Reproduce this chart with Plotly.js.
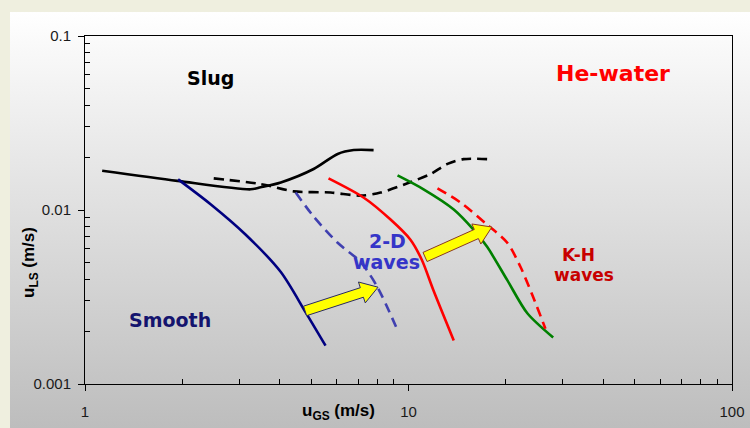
<!DOCTYPE html>
<html>
<head>
<meta charset="utf-8">
<script src="https://cdn.plot.ly/plotly-3.0.1.min.js"></script>
<style>
  html, body { margin: 0; padding: 0; }
  body { width: 750px; height: 428px; background: #efefdf; position: relative; overflow: hidden; }
  #panel { position: absolute; left: 10px; top: 12px; right: 0; bottom: 0;
           background: linear-gradient(to bottom, #ffffff 0%, #f8f8f8 10%, #bdbdbd 100%); }
  #chart { position: absolute; left: 0; top: 0; width: 750px; height: 428px; }
</style>
</head>
<body>
<div id="panel"></div>
<div id="chart"></div>
<script>
// Flow-regime transition boundaries, He-water (u_GS vs u_LS, m/s)
const slugSolidX = [1.13, 1.93, 3.25, 3.49, 4.03, 5.09, 6.04, 6.77, 7.80];
const slugSolidY = [0.0168, 0.0147, 0.01315, 0.0135, 0.0144, 0.0172, 0.0210, 0.0221, 0.0221];

const slugDashX = [2.50, 3.49, 4.42, 5.75, 7.11, 8.20, 9.93, 11.7, 13.2, 14.8, 17.5];
const slugDashY = [0.0152, 0.0141, 0.0128, 0.0126, 0.0121, 0.0126, 0.01425, 0.0161, 0.0184, 0.0196, 0.0196];

const smoothX = [1.94, 2.45, 3.14, 4.03, 4.81, 5.54];
const smoothY = [0.0150, 0.01076, 0.00721, 0.00440, 0.00258, 0.00166];

const wave2dX = [4.48, 5.09, 6.04, 7.11, 8.02, 9.31];
const wave2dY = [0.0126, 0.00917, 0.00648, 0.00502, 0.00360, 0.00198];

const redSolidX = [5.66, 7.26, 8.80, 10.14, 11.0, 11.94, 13.8];
const redSolidY = [0.0152, 0.0118, 0.00881, 0.00675, 0.00516, 0.00346, 0.00178];

const greenX = [9.25, 11.13, 13.8, 15.88, 17.5, 20.2, 23.3, 28.0];
const greenY = [0.0158, 0.01315, 0.01007, 0.00771, 0.00614, 0.00395, 0.00255, 0.00185];

const redDashX = [12.29, 14.47, 17.5, 20.2, 22.2, 24.3, 26.5];
const redDashY = [0.01333, 0.01105, 0.00824, 0.00648, 0.0047, 0.00315, 0.00208];

// Shift arrows: [tailX, tailY, tipX, tipY]
const arrowSmall = [4.79, 0.00263, 8.05, 0.0036];
const arrowLarge = [11.25, 0.00537, 18.1, 0.00798];

const xTickVals = [1, 10, 100];
const xTickText = ['1', '10', '100'];
const yTickVals = [0.001, 0.01, 0.1];
const yTickText = ['0.001', '0.01', '0.1'];
const minorDigits = [2, 3, 4, 5, 6, 7, 8, 9];

const W = 750, H = 428;
const M = { l: 85, r: 18, t: 36, b: 44 };
const xRange = [0, 2], yRange = [-3, -1];

// pixels per decade, used to build arrow outlines in screen proportions
const pxX = (W - M.l - M.r) / (xRange[1] - xRange[0]);
const pxY = (H - M.t - M.b) / (yRange[1] - yRange[0]);

function blockArrow(a, shaft, headW, headL) {
  const x0 = Math.log10(a[0]) * pxX, y0 = Math.log10(a[1]) * pxY;
  const x1 = Math.log10(a[2]) * pxX, y1 = Math.log10(a[3]) * pxY;
  const dx = x1 - x0, dy = y1 - y0, len = Math.hypot(dx, dy);
  const ux = dx / len, uy = dy / len, nx = -uy, ny = ux;
  const bx = x1 - ux * headL, by = y1 - uy * headL;
  const pts = [
    [x0 + nx * shaft / 2, y0 + ny * shaft / 2],
    [bx + nx * shaft / 2, by + ny * shaft / 2],
    [bx + nx * headW / 2, by + ny * headW / 2],
    [x1, y1],
    [bx - nx * headW / 2, by - ny * headW / 2],
    [bx - nx * shaft / 2, by - ny * shaft / 2],
    [x0 - nx * shaft / 2, y0 - ny * shaft / 2]
  ];
  pts.push(pts[0]);
  return {
    x: pts.map(p => Math.pow(10, p[0] / pxX)),
    y: pts.map(p => Math.pow(10, p[1] / pxY))
  };
}

function line(x, y, color, dash) {
  return {
    x: x, y: y, type: 'scatter', mode: 'lines', hoverinfo: 'skip',
    line: { color: color, width: 2.6, dash: dash || 'solid', shape: 'spline', smoothing: 0.8 }
  };
}

const a1 = blockArrow(arrowSmall, 10, 22, 17);
const a2 = blockArrow(arrowLarge, 10, 22, 17);

const data = [
  line(slugSolidX, slugSolidY, '#000000'),
  line(slugDashX, slugDashY, '#000000', '10px,6px'),
  line(smoothX, smoothY, '#000080'),
  line(wave2dX, wave2dY, '#4040b0', '10px,6px'),
  line(redSolidX, redSolidY, '#ff0000'),
  line(greenX, greenY, '#008000'),
  line(redDashX, redDashY, '#ff0000', '10px,6px'),
  { x: a1.x, y: a1.y, type: 'scatter', mode: 'lines', fill: 'toself', fillcolor: '#ffff00',
    line: { color: '#2a2a60', width: 1 }, hoverinfo: 'skip' },
  { x: a2.x, y: a2.y, type: 'scatter', mode: 'lines', fill: 'toself', fillcolor: '#ffff00',
    line: { color: '#8a3a20', width: 1 }, hoverinfo: 'skip' }
];

function minorVals(lo, hi) {
  const v = [];
  for (let e = lo; e < hi; e++) minorDigits.forEach(d => v.push(d * Math.pow(10, e)));
  return v;
}

const tickFont = { family: 'Liberation Sans, Arial, sans-serif', size: 15, color: '#1a1a1a' };
const labelFont = 'DejaVu Sans, Verdana, sans-serif';

const axisCommon = {
  type: 'log', showgrid: false, zeroline: false,
  showline: true, linecolor: '#000', linewidth: 1, mirror: true,
  ticks: 'outside', ticklen: 6, tickcolor: '#000', tickwidth: 1,
  tickmode: 'array', tickfont: tickFont
};

// region labels: text, centre in pixels, size, colour
const regionLabels = [
  ['<b>Slug</b>', 210, 78, 19, '#000000'],
  ['<b>He-water</b>', 613, 73, 22, '#ff0000'],
  ['<b>2-D</b>', 387, 241, 19, '#3535c8'],
  ['<b>waves</b>', 386, 262, 19, '#3535c8'],
  ['<b>K-H</b>', 578, 255, 17, '#c80000'],
  ['<b>waves</b>', 584, 275, 17, '#c80000'],
  ['<b>Smooth</b>', 170, 320, 19, '#14146e']
];

const plotW = W - M.l - M.r, plotH = H - M.t - M.b;
const px2paperX = px => (px - M.l) / plotW;
const px2paperY = py => 1 - (py - M.t) / plotH;

const layout = {
  width: W, height: H,
  margin: M,
  paper_bgcolor: 'rgba(0,0,0,0)', plot_bgcolor: 'rgba(0,0,0,0)',
  showlegend: false,
  xaxis: Object.assign({}, axisCommon, {
    range: xRange, tickvals: xTickVals, ticktext: xTickText, ticklabelstandoff: 8,
    minor: { tickmode: 'array', tickvals: minorVals(0, 2), ticks: 'inside', ticklen: 5, tickcolor: '#000', showgrid: false }
  }),
  yaxis: Object.assign({}, axisCommon, {
    range: yRange, tickvals: yTickVals, ticktext: yTickText, ticklabelstandoff: 4,
    minor: { tickmode: 'array', tickvals: minorVals(-3, -1), ticks: 'inside', ticklen: 5, tickcolor: '#000', showgrid: false }
  }),
  annotations: regionLabels.map(a => ({
    text: a[0], xref: 'paper', yref: 'paper',
    x: px2paperX(a[1]), y: px2paperY(a[2]),
    xanchor: 'center', yanchor: 'middle', showarrow: false, borderpad: 0,
    font: { family: labelFont, size: a[3], color: a[4] }
  })).concat([
    { text: '<b>u<sub>GS</sub> (m/s)</b>', xref: 'paper', yref: 'paper',
      x: px2paperX(338), y: px2paperY(412),
      xanchor: 'center', yanchor: 'middle', showarrow: false,
      font: { family: 'Liberation Sans, Arial, sans-serif', size: 17, color: '#000' } },
    { text: '<b>u<sub>LS</sub> (m/s)</b>', xref: 'paper', yref: 'paper', textangle: -90,
      x: px2paperX(30), y: px2paperY(263),
      xanchor: 'center', yanchor: 'middle', showarrow: false,
      font: { family: 'Liberation Sans, Arial, sans-serif', size: 17, color: '#000' } }
  ])
};

Plotly.newPlot('chart', data, layout, { staticPlot: true, displayModeBar: false });
</script>
</body>
</html>
